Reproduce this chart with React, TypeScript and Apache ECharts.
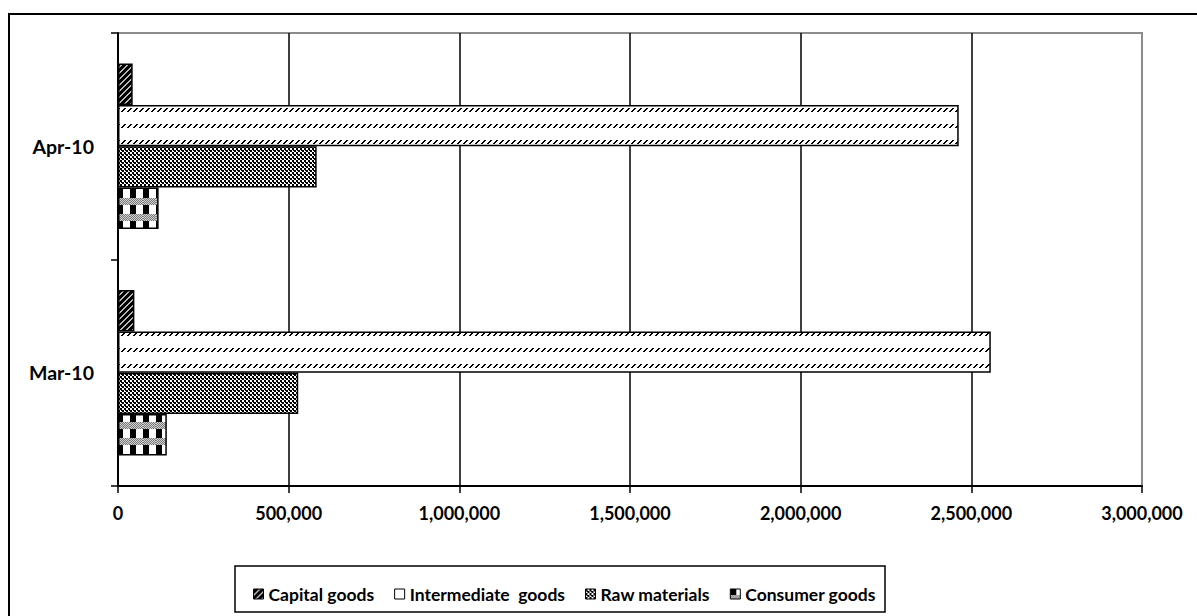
import React, { useEffect, useRef } from "react";
import * as echarts from "echarts";

const categories = ["Mar-10", "Apr-10"];
const seriesNames = ["Capital goods", "Intermediate  goods", "Raw materials", "Consumer goods"];
const capitalGoods = [48000, 43000];
const intermediateGoods = [2557000, 2463000];
const rawMaterials = [528000, 582000];
const consumerGoods = [143000, 119000];
const xTicks = { min: 0, max: 3000000, interval: 500000 };

function makeTile(w: number, h: number, draw: (c: CanvasRenderingContext2D) => void) {
  const cv = document.createElement("canvas");
  cv.width = w;
  cv.height = h;
  const ctx = cv.getContext("2d") as CanvasRenderingContext2D;
  draw(ctx);
  return { image: cv, repeat: "repeat", imageWidth: w, imageHeight: h } as any;
}

function px(c: CanvasRenderingContext2D, color: string, pts: number[][]) {
  c.fillStyle = color;
  pts.forEach(([x, y]) => c.fillRect(x, y, 1, 1));
}

export default function App() {
  const ref = useRef<HTMLDivElement>(null);
  useEffect(() => {
    if (!ref.current) return;
    const chart = echarts.init(ref.current, undefined, { renderer: "svg" });

    const capitalPat = makeTile(6, 6, (c) => {
      c.fillStyle = "#000";
      c.fillRect(0, 0, 6, 6);
      const pts: number[][] = [];
      for (let i = 0; i < 6; i++) {
        pts.push([i, 5 - i]);
        pts.push([(i + 1) % 6, 5 - i]);
      }
      px(c, "#b8b8b8", pts);
    });
    const interPat = makeTile(6, 16, (c) => {
      c.fillStyle = "#fff";
      c.fillRect(0, 0, 6, 16);
      px(c, "#000", [[4, 12], [3, 13], [2, 14], [1, 15], [5, 12], [4, 13], [3, 14], [2, 15]]);
    });
    const rawPat = makeTile(4, 4, (c) => {
      c.fillStyle = "#fff";
      c.fillRect(0, 0, 4, 4);
      c.fillStyle = "#000";
      c.fillRect(0, 0, 2, 2);
      c.fillRect(2, 2, 2, 2);
      c.fillRect(1, 2, 1, 1);
    });
    const consPat = makeTile(13, 16, (c) => {
      c.fillStyle = "#fff";
      c.fillRect(0, 0, 13, 16);
      c.fillStyle = "#000";
      c.fillRect(0, 0, 6, 16);
      for (let y = 0; y < 7; y++) {
        for (let x = 0; x < 13; x++) {
          c.fillStyle = (x + y) % 2 === 0 ? "#7a7a7a" : "#d0d0d0";
          c.fillRect(x, y + 6, 1, 1);
        }
      }
    });

    const pats = [capitalPat, interPat, rawPat, consPat];
    const datas = [capitalGoods, intermediateGoods, rawMaterials, consumerGoods];
    const font = "Lato";

    chart.setOption({
      animation: false,
      grid: {
        left: 118,
        right: 55,
        top: 33,
        bottom: 130,
        show: true,
        borderColor: "#8c8c8c",
        borderWidth: 2,
        containLabel: false,
      },
      xAxis: {
        type: "value",
        min: xTicks.min,
        max: xTicks.max,
        interval: xTicks.interval,
        axisLine: { show: true, lineStyle: { color: "#000", width: 2 } },
        axisTick: { show: true, length: 7, lineStyle: { color: "#000", width: 1.5 } },
        splitLine: { show: true, showMinLine: false, showMaxLine: false, lineStyle: { color: "#000", width: 1.5 } },
        axisLabel: {
          color: "#000",
          fontFamily: font,
          fontWeight: "bold",
          fontSize: 18,
          margin: 18,
          formatter: (v: number) => v.toLocaleString("en-US"),
        },
      },
      yAxis: {
        type: "category",
        data: categories,
        axisLine: { show: true, lineStyle: { color: "#000", width: 2 } },
        axisTick: { show: true, length: 7, lineStyle: { color: "#000", width: 1.5 } },
        axisLabel: {
          color: "#000",
          fontFamily: font,
          fontWeight: "bold",
          fontSize: 19.5,
          margin: 24,
        },
      },
      legend: {
        left: 248,
        top: 580,
        itemWidth: 10,
        itemHeight: 10,
        itemGap: 20,
        icon: "rect",
        textStyle: { color: "#000", fontFamily: font, fontWeight: "bold", fontSize: 17.5 },
        itemStyle: { borderColor: "#000", borderWidth: 1 },
        data: seriesNames,
      },
      graphic: [
        {
          type: "rect",
          shape: { x: 9, y: 14, width: 1300, height: 700 },
          style: { fill: "none", stroke: "#000", lineWidth: 2 },
          silent: true,
          z: -10,
        },
        {
          type: "rect",
          shape: { x: 235, y: 566, width: 650, height: 46 },
          style: { fill: "none", stroke: "#000", lineWidth: 1.5 },
          silent: true,
        },
      ],
      series: seriesNames.map((name, i) => ({
        name,
        type: "bar",
        data: datas[i],
        barGap: "0%",
        barCategoryGap: "27%",
        itemStyle: { color: pats[i], borderColor: "#000", borderWidth: 1.5 },
      })),
    });
    return () => chart.dispose();
  }, []);
  return (
    <div
      ref={ref}
      style={{ position: "fixed", left: 0, top: 0, width: 1197, height: 616, background: "#fff" }}
    />
  );
}
